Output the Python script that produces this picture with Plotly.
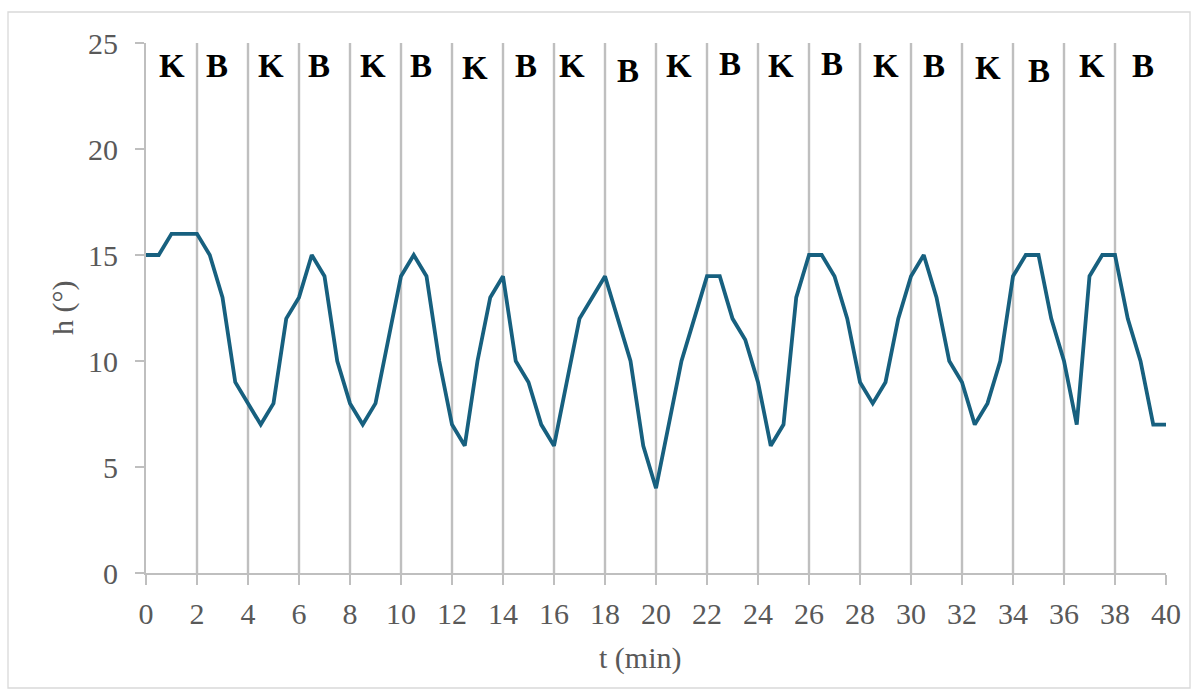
import plotly.graph_objects as go

t = [i * 0.5 for i in range(81)]
h = [15, 15, 16, 16, 16, 15, 13, 9, 8, 7,
     8, 12, 13, 15, 14, 10, 8, 7, 8, 11,
     14, 15, 14, 10, 7, 6, 10, 13, 14, 10,
     9, 7, 6, 9, 12, 13, 14, 12, 10, 6,
     4, 7, 10, 12, 14, 14, 12, 11, 9, 6,
     7, 13, 15, 15, 14, 12, 9, 8, 9, 12,
     14, 15, 13, 10, 9, 7, 8, 10, 14, 15,
     15, 12, 10, 7, 14, 15, 15, 12, 10, 7, 7]

phase_labels = ["K", "B"] * 10
phase_x = [1.0, 2.8, 4.9, 6.8, 8.9, 10.8, 12.9, 14.9, 16.7, 18.9,
           20.9, 22.9, 24.9, 26.9, 29.0, 30.9, 33.0, 35.0, 37.1, 39.1]
phase_y = [23.9, 23.9, 23.9, 23.9, 23.9, 23.9, 23.8, 23.9, 23.9, 23.7,
           23.9, 24.0, 23.9, 24.0, 23.9, 23.9, 23.8, 23.7, 23.9, 23.9]
divider_t = list(range(2, 40, 2))

x_ticks = list(range(0, 41, 2))
y_ticks = [0, 5, 10, 15, 20, 25]

FONT = "Liberation Serif, Times New Roman, serif"
GRAY = "#595959"
LINE_GRAY = "#bfbfbf"

fig = go.Figure()
fig.add_trace(go.Scatter(x=t, y=h, mode="lines",
                         line=dict(color="#17607f", width=3.8),
                         hoverinfo="x+y", showlegend=False))

shapes = []
for d in divider_t:
    shapes.append(dict(type="line", xref="x", yref="y", x0=d, x1=d, y0=0, y1=25.4,
                       line=dict(color=LINE_GRAY, width=2.4), layer="below"))
# chart border
shapes.append(dict(type="rect", xref="paper", yref="paper",
                   x0=(8 - 146) / 1020, x1=(1190 - 146) / 1020,
                   y0=(573 - 688) / 530, y1=(573 - 12) / 530,
                   line=dict(color="#d9d9d9", width=1.3), layer="below"))

annotations = []
for lab, x, y in zip(phase_labels, phase_x, phase_y):
    annotations.append(dict(x=x, y=y, xref="x", yref="y", text=lab, showarrow=False,
                            font=dict(family=FONT, size=33, color="black", weight="bold")))
annotations.append(dict(x=(640 - 146) / 1020, y=(573 - 658) / 530, xref="paper", yref="paper",
                        xanchor="center", yanchor="middle",
                        text="t (min)", showarrow=False,
                        font=dict(family=FONT, size=30, color=GRAY)))
annotations.append(dict(x=(63 - 146) / 1020, y=0.5, xref="paper", yref="paper",
                        xanchor="center", yanchor="middle",
                        text="h (°)", showarrow=False, textangle=-90,
                        font=dict(family=FONT, size=30, color=GRAY)))

fig.update_layout(
    width=1198, height=700,
    margin=dict(l=146, r=32, t=43, b=127),
    paper_bgcolor="white", plot_bgcolor="white",
    shapes=shapes, annotations=annotations,
    xaxis=dict(range=[0, 40], tickvals=x_ticks, ticktext=[str(v) for v in x_ticks],
               showgrid=False, zeroline=False, showline=True, linecolor=LINE_GRAY, linewidth=2,
               ticks="outside", ticklen=10, tickcolor=LINE_GRAY, tickwidth=2,
               tickfont=dict(family=FONT, size=30, color=GRAY), ticklabelstandoff=3),
    yaxis=dict(range=[0, 25], tickvals=y_ticks, ticktext=[str(v) for v in y_ticks],
               showgrid=False, zeroline=False, showline=True, linecolor=LINE_GRAY, linewidth=2,
               ticks="outside", ticklen=9, tickcolor=LINE_GRAY, tickwidth=2,
               tickfont=dict(family=FONT, size=30, color=GRAY), ticklabelstandoff=11),
)

fig.write_html("out.html", config={"displayModeBar": False},
               post_script="document.body.style.margin='0';")
